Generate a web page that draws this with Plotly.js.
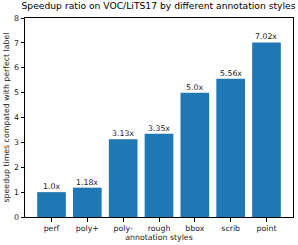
<!DOCTYPE html>
<html><head><meta charset="utf-8">
<script src="https://cdn.plot.ly/plotly-3.0.1.min.js"></script>
<style>html,body{margin:0;padding:0;background:#fff}#c{width:298px;height:245px}</style>
</head><body><div id="c"></div>
<script>
const categories = ['perf','poly+','poly-','rough','bbox','scrib','point'];
const speedups = [1.0, 1.18, 3.13, 3.35, 5.0, 5.56, 7.02];
const yTicks = [0,1,2,3,4,5,6,7,8];

function pyStr(v){ return Number.isInteger(v) ? v.toFixed(1) : String(v); }
const labels = speedups.map(v => pyStr(v) + 'x');
const xIdx = categories.map((_, i) => i);

const font = {family: 'DejaVu Sans', size: 7.8, color: '#1a1a1a'};
const trace = {
  type: 'bar', x: xIdx, y: speedups, width: 0.8,
  marker: {color: '#1f77b4'}, hoverinfo: 'none'
};
const annotations = xIdx.map((x, i) => ({
  x: x, y: speedups[i], text: labels[i], showarrow: false,
  yanchor: 'bottom', xanchor: 'center', yshift: -1,
  font: font
}));
const axisCommon = {
  showline: true, mirror: true, linecolor: '#000', linewidth: 1,
  ticks: 'outside', ticklen: 3.5, tickwidth: 1, tickcolor: '#000',
  showgrid: false, zeroline: false, tickfont: font
};
const layout = {
  width: 298, height: 245,
  margin: {l: 25, r: 5, t: 18, b: 28},
  paper_bgcolor: '#fff', plot_bgcolor: '#fff',
  title: {text: 'Speedup ratio on VOC/LiTS17 by different annotation styles',
          font: {family: 'DejaVu Sans', size: 9.2, color: '#000'},
          x: 0.532, xanchor: 'center', y: 0.99, yanchor: 'top'},
  xaxis: Object.assign({}, axisCommon, {
    range: [-0.74, 6.74], tickmode: 'array', tickvals: xIdx, ticktext: categories,
    title: {text: 'annotation styles', font: font, standoff: 1}
  }),
  yaxis: Object.assign({}, axisCommon, {
    range: [0, 8], tickmode: 'array', tickvals: yTicks,
    title: {text: 'speedup times compated with perfect label', font: font, standoff: 3}
  }),
  annotations: annotations,
  showlegend: false
};
Plotly.newPlot('c', [trace], layout, {displayModeBar: false, staticPlot: true});
</script></body></html>
